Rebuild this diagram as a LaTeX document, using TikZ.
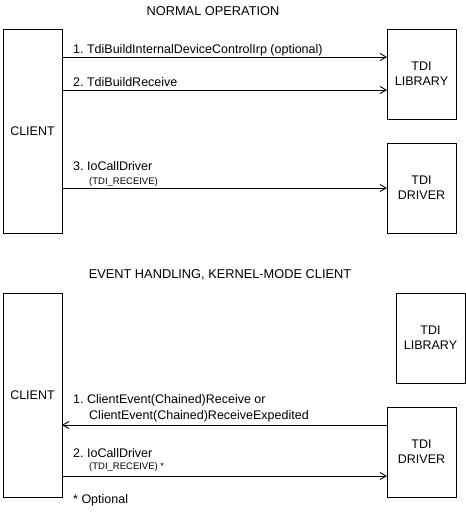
\documentclass[tikz,border=0pt]{standalone}
\usepackage{fontspec}
\setmainfont{Liberation Sans}
\usetikzlibrary{arrows.meta,calc,positioning}
\tikzset{
	unit box/.style={draw,line width=0.9pt,minimum width=59pt,outer sep=0pt,align=center,font=\fontsize{12.5}{15}\selectfont},
	msg/.style={line width=0.9pt,-{Straight Barb[length=6pt,width=7pt]}},
	lbl/.style={anchor=base west,inner sep=0pt,font=\fontsize{12.5}{15}\selectfont},
	sublbl/.style={anchor=base west,inner sep=0pt,font=\fontsize{9.5}{11}\selectfont},
	heading/.style={inner sep=0pt,font=\fontsize{12.8}{15}\selectfont}
}
\begin{document}
\begin{tikzpicture}[x=1pt,y=-1pt]
	\useasboundingbox (0,0) rectangle (466,512);
	% normal operation
	\node[heading] (titleA) at (213,11) {NORMAL OPERATION};
	\node[unit box,minimum height=204pt,anchor=north west] (client) at (3,29) {CLIENT};
	\node[unit box,minimum height=90pt,minimum width=69pt,anchor=north west] (lib) at (387,29) {TDI\\LIBRARY};
	\node[unit box,minimum height=90pt,minimum width=69pt,anchor=north west] (drv) at (387,143) {TDI\\DRIVER};
	\draw[msg] (client.east |- 0,57) -- (lib.west |- 0,57);
	\draw[msg] (client.east |- 0,90) -- (lib.west |- 0,90);
	\draw[msg] (client.east |- 0,188) -- (drv.west |- 0,188);
	\node[lbl] (m1) at (73,53) {1.\ TdiBuildInternalDeviceControlIrp (optional)};
	\node[lbl] (m2) at (73,86) {2.\ TdiBuildReceive};
	\node[lbl] (m3) at (73,170) {3.\ IoCallDriver};
	\node[sublbl] (m3b) at (89,184) {(TDI\_RECEIVE)};
	% event handling
	\node[heading] (titleB) at (220,275) {EVENT HANDLING, KERNEL-MODE CLIENT};
	\node[unit box,minimum height=204pt,anchor=north west] (client2) at (3,293) {CLIENT};
	\node[unit box,minimum height=90pt,minimum width=69pt,anchor=north west] (lib2) at (396,293) {TDI\\LIBRARY};
	\node[unit box,minimum height=90pt,minimum width=69pt,anchor=north west] (drv2) at (387,407) {TDI\\DRIVER};
	\draw[msg] (drv2.west |- 0,425) -- (client2.east |- 0,425);
	\draw[msg] (client2.east |- 0,476) -- (drv2.west |- 0,476);
	\node[lbl] (e1) at (73,403) {1.\ ClientEvent(Chained)Receive or};
	\node[lbl] (e1b) at (89,419) {ClientEvent(Chained)ReceiveExpedited};
	\node[lbl] (e2) at (73,457) {2.\ IoCallDriver};
	\node[sublbl] (e2b) at (89,469) {(TDI\_RECEIVE) *};
	\node[lbl] (note) at (73,503) {* Optional};
\end{tikzpicture}
\end{document}
